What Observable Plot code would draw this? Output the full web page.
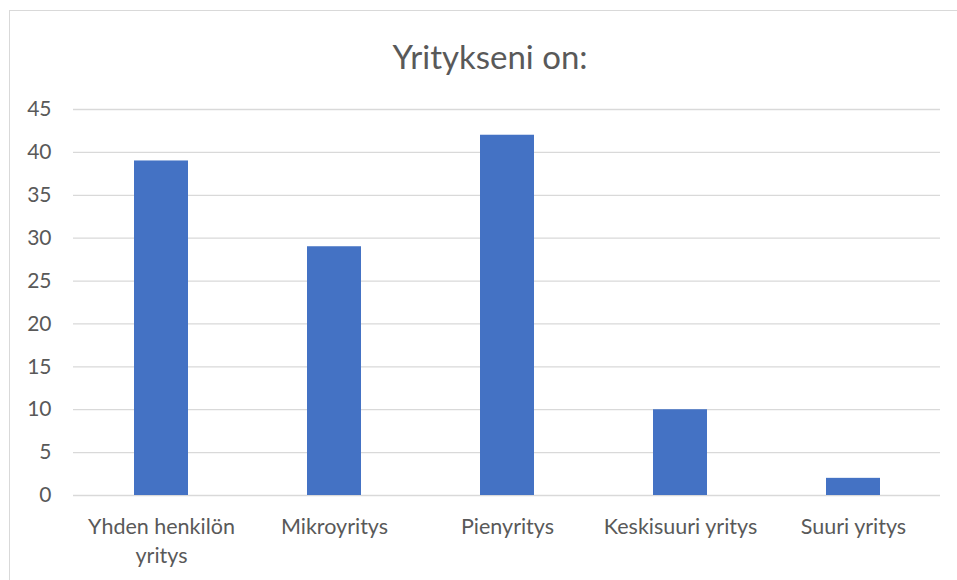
<!DOCTYPE html>
<html>
<head>
<meta charset="utf-8">
<script src="https://cdn.jsdelivr.net/npm/d3@7"></script>
<script src="https://cdn.jsdelivr.net/npm/@observablehq/plot@0.6"></script>
<style>
  html, body { margin: 0; padding: 0; background: #fff; }
  #wrap { position: relative; width: 957px; height: 580px; overflow: hidden; }
  #frame { position: absolute; left: 9px; top: 10px; width: 960px; height: 580px; border: 1px solid #d9d9d9; box-sizing: border-box; }
  #title { position: absolute; left: 0; width: 980px; top: 37px; line-height: 1.2; text-align: center; font-family: Lato, sans-serif; font-size: 33px; color: #595959; }
  #chart { position: absolute; left: 0; top: 0; }
</style>
</head>
<body>
<div id="wrap">
  <div id="frame"></div>
  <div id="title">Yritykseni on:</div>
  <div id="chart"></div>
</div>
<script>
const categories = ["Yhden henkilön yritys", "Mikroyritys", "Pienyritys", "Keskisuuri yritys", "Suuri yritys"];
const tickLabels = ["Yhden henkilön\nyritys", "Mikroyritys", "Pienyritys", "Keskisuuri yritys", "Suuri yritys"];
const values = [39, 29, 42, 10, 2];
const yTicks = [0, 5, 10, 15, 20, 25, 30, 35, 40, 45];

const data = categories.map((c, i) => ({category: c, value: values[i]}));
const labelOf = new Map(categories.map((c, i) => [c, tickLabels[i]]));

const chart = Plot.plot({
  width: 957,
  height: 580,
  marginLeft: 73,
  marginRight: 17,
  marginTop: 109,
  marginBottom: 85,
  style: {fontFamily: "Lato, sans-serif", fontSize: "21px", color: "#595959", background: "transparent"},
  x: {domain: categories, paddingInner: 0.69, paddingOuter: 0.345, label: null},
  y: {domain: [0, 45], label: null},
  marks: [
    Plot.ruleY(yTicks, {stroke: "#d9d9d9", strokeWidth: 1.3}),
    Plot.barY(data, {x: "category", y: "value", fill: "#4472c4"}),
    Plot.axisY({ticks: yTicks, tickSize: 0, tickPadding: 22, label: null, fontSize: 21}),
    Plot.axisX({tickSize: 0, tickPadding: 18, tickFormat: d => labelOf.get(d), label: null, fontSize: 21.5, lineHeight: 1.35})
  ]
});
document.getElementById("chart").appendChild(chart);
</script>
</body>
</html>
